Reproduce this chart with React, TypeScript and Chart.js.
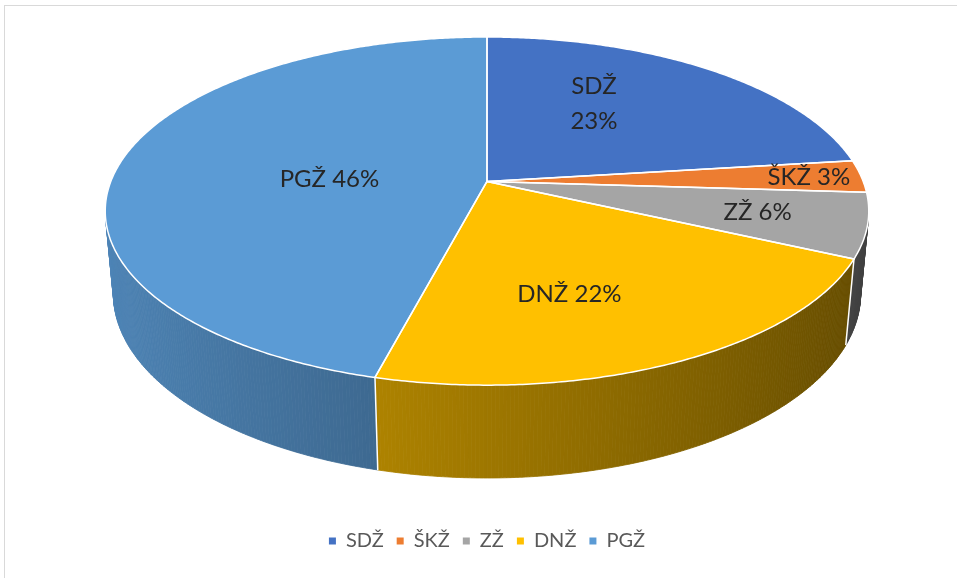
import React, { useEffect, useRef } from 'react';
import { Chart, registerables } from 'chart.js';

Chart.register(...registerables);

// ---- data ----
const categories = ['SDŽ', 'ŠKŽ', 'ZŽ', 'DNŽ', 'PGŽ'];
const shares = [23, 3, 6, 22, 46];
const sliceColors = ['#4472C4', '#ED7D31', '#A5A5A5', '#FFC000', '#5B9BD5'];

// ---- 3D look (styling constants) ----
const TILT = (26.7 * Math.PI) / 180;
const DIST = 5.25;
const DEPTH = 0.248;
const LABEL_R = [0.585, 0.86, 0.72, 0.63, 0.42];
const LABEL_SHIFT = [-9.6, 0, 0, 7, -5.3];
const LABEL_WRAP = [true, false, false, false, false];
const FONT = 'Lato, "Open Sans", "DejaVu Sans", sans-serif';

function hexToRgb(h: string): number[] {
  const v = parseInt(h.slice(1), 16);
  return [(v >> 16) & 255, (v >> 8) & 255, v & 255];
}
function shade(rgb: number[], k: number): string {
  return `rgb(${Math.round(rgb[0] * k)},${Math.round(rgb[1] * k)},${Math.round(rgb[2] * k)})`;
}
function projN(X: number, Z: number, h: number): number[] {
  const D = DIST - h * Math.sin(TILT) + Z * Math.cos(TILT);
  const Yc = h * Math.cos(TILT) + Z * Math.sin(TILT);
  return [X / D, -Yc / D];
}

const framePlugin = {
  id: 'frame',
  beforeDraw(chart: any) {
    const ctx = chart.ctx;
    ctx.save();
    ctx.fillStyle = '#ffffff';
    ctx.fillRect(0, 0, chart.width, chart.height);
    ctx.strokeStyle = '#d9d9d9';
    ctx.lineWidth = 1;
    ctx.strokeRect(4.5, 5.5, chart.width + 20, chart.height + 20);
    ctx.restore();
  },
};

const pie3dPlugin = {
  id: 'pie3d',
  beforeDatasetsDraw(chart: any) {
    const meta = chart.getDatasetMeta(0);
    const ctx = chart.ctx;
    const area = chart.chartArea;
    let minY = Infinity;
    let maxY = -Infinity;
    for (let i = 0; i <= 720; i++) {
      const p = (i * Math.PI) / 360;
      const a = projN(Math.sin(p), Math.cos(p), 0);
      const b = projN(Math.sin(p), Math.cos(p), -DEPTH);
      minY = Math.min(minY, a[1], b[1]);
      maxY = Math.max(maxY, a[1], b[1]);
    }
    const fitH = area.bottom - area.top - 40;
    const f = fitH / (maxY - minY);
    const cx = (area.left + area.right) / 2;
    const cy = area.top - f * minY;
    const P = (phi: number, r: number, h: number) => {
      const n = projN(r * Math.sin(phi), r * Math.cos(phi), h);
      return [cx + f * n[0], cy + f * n[1]];
    };
    const quadFront = (p1: number, p2: number) => {
      const a = P(p1, 1, 0), b = P(p2, 1, 0), c = P(p2, 1, -DEPTH), d = P(p1, 1, -DEPTH);
      const s =
        a[0] * b[1] - b[0] * a[1] +
        (b[0] * c[1] - c[0] * b[1]) +
        (c[0] * d[1] - d[0] * c[1]) +
        (d[0] * a[1] - a[0] * d[1]);
      return { front: s < 0, a, b, c, d };
    };
    const slices = meta.data.map((arc: any, i: number) => {
      const { startAngle, endAngle } = arc.getProps(['startAngle', 'endAngle'], true);
      return { i, s: startAngle + Math.PI / 2, e: endAngle + Math.PI / 2 };
    });

    ctx.save();
    // side walls
    const step = Math.PI / 360;
    slices.forEach((sl: any) => {
      const rgb = hexToRgb(sliceColors[sl.i]);
      const n = Math.max(1, Math.ceil((sl.e - sl.s) / step));
      for (let k = 0; k < n; k++) {
        const p1 = sl.s + ((sl.e - sl.s) * k) / n;
        const p2 = sl.s + ((sl.e - sl.s) * (k + 1)) / n;
        const q = quadFront(p1, p2);
        if (!q.front) continue;
        const pm = (p1 + p2) / 2;
        const col = shade(rgb, 0.62 - 0.24 * Math.sin(pm));
        ctx.beginPath();
        ctx.moveTo(q.a[0], q.a[1]);
        ctx.lineTo(q.b[0], q.b[1]);
        ctx.lineTo(q.c[0], q.c[1]);
        ctx.lineTo(q.d[0], q.d[1]);
        ctx.closePath();
        ctx.fillStyle = col;
        ctx.fill();
        ctx.strokeStyle = col;
        ctx.lineWidth = 0.8;
        ctx.stroke();
      }
    });
    // white edges between slices on the side
    slices.forEach((sl: any) => {
      const q = quadFront(sl.s - 0.01, sl.s + 0.01);
      if (!q.front) return;
      const t = P(sl.s, 1, 0);
      const b = P(sl.s, 1, -DEPTH);
      ctx.beginPath();
      ctx.moveTo(t[0], t[1]);
      ctx.lineTo(b[0], b[1]);
      ctx.strokeStyle = '#ffffff';
      ctx.lineWidth = 1.5;
      ctx.stroke();
    });
    // top faces
    const topPath = (sl: any) => {
      const c0 = P(0, 0, 0);
      const n = Math.max(2, Math.ceil((sl.e - sl.s) / step));
      ctx.beginPath();
      ctx.moveTo(c0[0], c0[1]);
      for (let k = 0; k <= n; k++) {
        const p = P(sl.s + ((sl.e - sl.s) * k) / n, 1, 0);
        ctx.lineTo(p[0], p[1]);
      }
      ctx.closePath();
    };
    slices.forEach((sl: any) => {
      topPath(sl);
      ctx.fillStyle = sliceColors[sl.i];
      ctx.fill();
    });
    slices.forEach((sl: any) => {
      topPath(sl);
      ctx.strokeStyle = '#ffffff';
      ctx.lineWidth = 1.5;
      ctx.lineJoin = 'round';
      ctx.stroke();
    });
    // labels
    ctx.fillStyle = '#262626';
    ctx.font = `24px ${FONT}`;
    ctx.textAlign = 'center';
    ctx.textBaseline = 'middle';
    slices.forEach((sl: any) => {
      const i = sl.i;
      const phi = (sl.s + sl.e) / 2 + (LABEL_SHIFT[i] * Math.PI) / 180;
      const pos = P(phi, LABEL_R[i], 0);
      const pct = `${shares[i]}%`;
      if (LABEL_WRAP[i]) {
        ctx.fillText(categories[i], pos[0], pos[1] - 17.5);
        ctx.fillText(pct, pos[0], pos[1] + 17.5);
      } else {
        ctx.fillText(`${categories[i]} ${pct}`, pos[0], pos[1]);
      }
    });
    ctx.restore();
    return false;
  },
};

export default function App() {
  const ref = useRef<HTMLCanvasElement | null>(null);
  useEffect(() => {
    document.body.style.margin = '0';
    const chart = new Chart(ref.current as HTMLCanvasElement, {
      type: 'pie',
      data: {
        labels: categories,
        datasets: [
          {
            data: shares,
            backgroundColor: sliceColors,
            borderWidth: 0,
            hoverOffset: 0,
          },
        ],
      },
      options: {
        responsive: false,
        animation: false,
        layout: { padding: { top: 37, left: 17, right: 0, bottom: 17 } },
        plugins: {
          tooltip: { enabled: false },
          legend: {
            position: 'bottom',
            labels: {
              boxWidth: 7,
              boxHeight: 7,
              color: '#595959',
              padding: 13,
              font: { family: FONT, size: 20 },
            },
          },
        },
      },
      plugins: [framePlugin, pie3dPlugin],
    } as any);
    return () => chart.destroy();
  }, []);
  return (
    <div style={{ width: 957, height: 578 }}>
      <canvas ref={ref} width={957} height={578} style={{ display: 'block' }} />
    </div>
  );
}
